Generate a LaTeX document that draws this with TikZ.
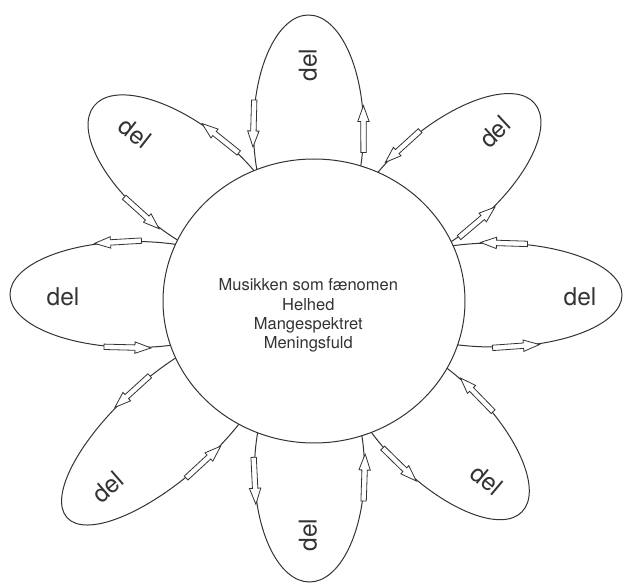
\documentclass[tikz,border=0pt]{standalone}
\usepackage{fontspec}
\setmainfont{TeX Gyre Heros}
\usetikzlibrary{shapes.geometric}
\definecolor{ink}{HTML}{333333}
\tikzset{
  petal/.style={draw=ink, line width=1pt},
  hollowarrow/.style={draw=ink, line width=0.8pt, fill=white, line join=miter},
  hub/.style={ellipse, draw=ink, line width=1pt, fill=white, minimum width=302pt, minimum height=284pt, inner sep=0pt},
  partlabel/.style={font=\fontsize{24.5}{28}\selectfont, text=ink, inner sep=0pt},
  hubtext/.style={font=\fontsize{16.5}{19.3}\selectfont, text=ink, align=center, inner sep=0pt}
}
\newcommand{\arrowoutline}{(-23.5,-2.7) -- (7.5,-2.7) -- (7.5,-5.7) -- (23.5,0) -- (7.5,5.7) -- (7.5,2.7) -- (-23.5,2.7) -- cycle}
\newcommand{\petallist}{308.5/167/90/37/115/55/43.5/38,
 414.5/206/40.5/38/120/53/29.7/36.9,
 456.5/295/0/37.5/128/52/47.5/59.5,
 408.5/400.5/-44.5/38/121/52/44.7/38.4,
 309.5/434.5/-90/35.5/112/55/43/46.3,
 206/392.5/-138/52.5/134.5/50/48.5/54.1,
 172.5/294.5/180/37.5/125/53/45/54.5,
 216/204/141.2/37.5/119/54/52.3/37.8}
\begin{document}
\begin{tikzpicture}[x=1pt,y=1pt]
\useasboundingbox (0,0) rectangle (627,-585);
% petals
\foreach \mx/\my/\ph/\pd/\pa/\pb/\si/\so in \petallist {
  \begin{scope}[shift={({\mx+\pd*cos(\ph)},{-\my+\pd*sin(\ph)})}, rotate=\ph]
    \draw[petal] (0,0) ellipse [x radius=\pa, y radius=\pb];
  \end{scope}
}
% hub
\node[hub] (c) at (314,-301) {};
\node[hubtext] (ht) at (308.3,-315.6) {Musikken som fænomen\\Helhed\\Mangespektret\\Meningsfuld};
% arrows
\foreach \mx/\my/\ph/\pd/\pa/\pb/\si/\so in \petallist {
  \begin{scope}[shift={({\mx+\pd*cos(\ph)},{-\my+\pd*sin(\ph)})}, rotate=\ph]
    \pgfmathsetmacro\tA{acos((\si-\pd)/\pa)}
    \pgfmathsetmacro\tB{-acos((\so-\pd)/\pa)}
    \pgfmathsetmacro\rA{atan2(\pb*cos(\tA),-\pa*sin(\tA))}
    \pgfmathsetmacro\rB{atan2(\pb*cos(\tB),-\pa*sin(\tB))}
    \pgfmathsetmacro\xA{\pa*cos(\tA)}
    \pgfmathsetmacro\yA{\pb*sin(\tA)}
    \pgfmathsetmacro\xB{\pa*cos(\tB)}
    \pgfmathsetmacro\yB{\pb*sin(\tB)}
    \draw[hollowarrow, shift={(\xA,\yA)}, rotate=\rA] \arrowoutline;
    \draw[hollowarrow, shift={(\xB,\yB)}, rotate=\rB] \arrowoutline;
  \end{scope}
}
% labels
\node[partlabel, rotate=90] (p1) at (308,-65) {del};
\node[partlabel, rotate=43] (p2) at (495,-132) {del};
\node[partlabel] (p3) at (580,-297) {del};
\node[partlabel, rotate=-40] (p4) at (487,-480) {del};
\node[partlabel, rotate=90] (p5) at (308,-535) {del};
\node[partlabel, rotate=41] (p6) at (108,-487) {del};
\node[partlabel] (p7) at (63,-297) {del};
\node[partlabel, rotate=-38] (p8) at (135,-133) {del};
\end{tikzpicture}
\end{document}
